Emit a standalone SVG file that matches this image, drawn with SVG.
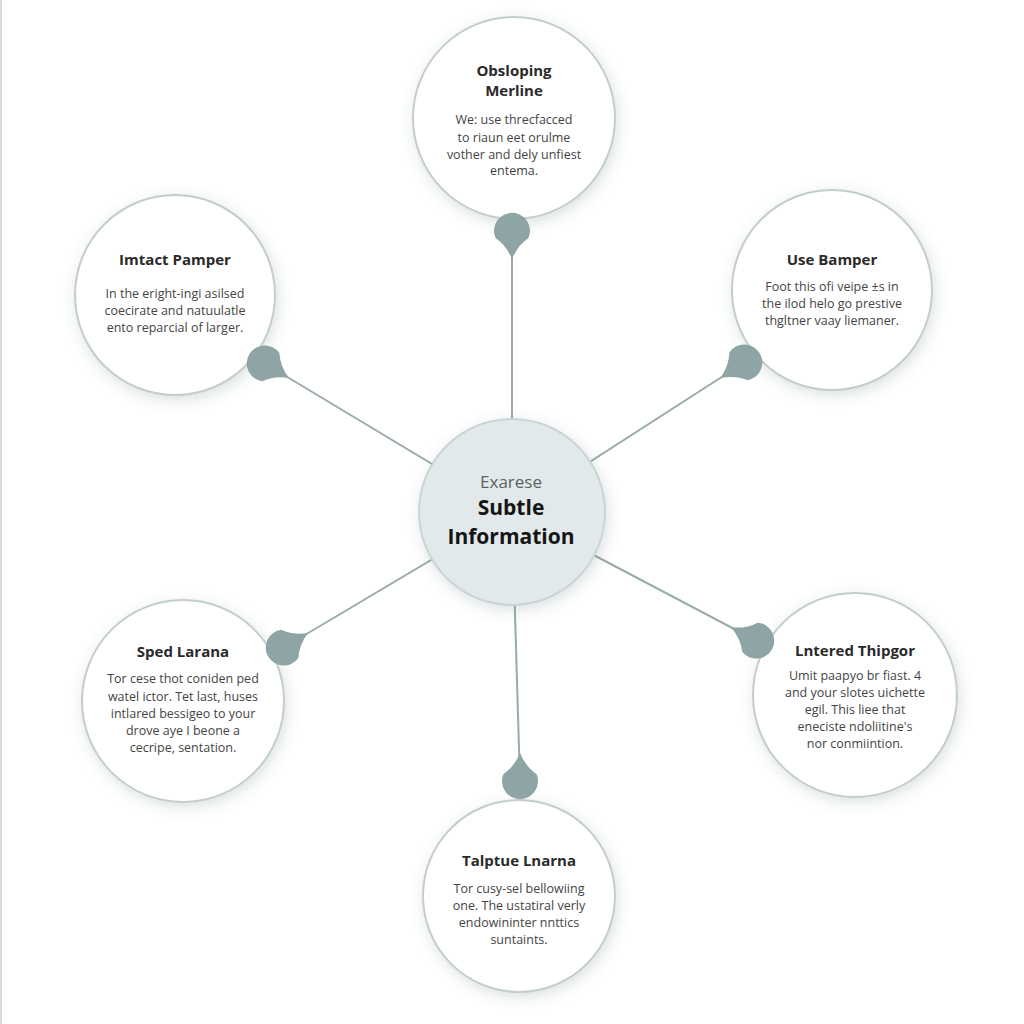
<svg xmlns="http://www.w3.org/2000/svg" xmlns:xlink="http://www.w3.org/1999/xlink" width="1024" height="1024" viewBox="0 0 1024 1024">
<style>
.node{fill:#ffffff;stroke:#c3cdcd;stroke-width:2;filter:url(#sh)}
.hub{fill:#e2e9ea;stroke:#cbd4d5;stroke-width:2;filter:url(#sh)}
.t{font-family:"Open Sans","Noto Sans",sans-serif;font-weight:700;font-size:15px;fill:#2a2a2a;text-anchor:middle}
.b{font-family:"Open Sans","Noto Sans",sans-serif;font-size:12.5px;fill:#444;text-anchor:middle}
.link{stroke:#9aabab;stroke-width:2;fill:none}
.drop{fill:#8fa5a5}
</style>
<defs>
<filter id="sh" x="-30%" y="-30%" width="160%" height="160%">
<feDropShadow dx="2" dy="4" stdDeviation="7" flood-color="#5f7373" flood-opacity="0.22"/>
</filter>
<path id="drop" d="M29,0 Q15,-6 8,-16.5 A18,18 0 1,0 8,16.5 Q15,6 29,0 Z"/>
</defs>
<rect width="1024" height="1024" fill="#ffffff"/>
<rect x="0" y="0" width="2" height="1024" fill="#d8dcdc"/>
<g id="connectors">
<line class="link" x1="512" y1="240" x2="512" y2="512"/>
<line class="link" x1="264" y1="363" x2="512" y2="512"/>
<line class="link" x1="745" y1="362" x2="512" y2="512"/>
<line class="link" x1="283" y1="648" x2="512" y2="512"/>
<line class="link" x1="757" y1="641" x2="512" y2="512"/>
<line class="link" x1="520" y1="782" x2="512" y2="512"/>
</g>
<g id="node-top">
<circle class="node" cx="514" cy="118" r="101"/>
<text class="t" x="514" y="76">Obsloping</text>
<text class="t" x="514" y="96">Merline</text>
<text class="b" x="514" y="124">We: use threcfacced</text>
<text class="b" x="514" y="142">to riaun eet orulme</text>
<text class="b" x="514" y="159">vother and dely unfiest</text>
<text class="b" x="514" y="175">entema.</text>
</g>
<g id="node-left-top">
<circle class="node" cx="175" cy="295" r="100"/>
<text class="t" x="175" y="265">Imtact Pamper</text>
<text class="b" x="175" y="298">In the eright-ingi asilsed</text>
<text class="b" x="175" y="315">coecirate and natuulatle</text>
<text class="b" x="175" y="332">ento reparcial of larger.</text>
</g>
<g id="node-right-top">
<circle class="node" cx="832" cy="290" r="100"/>
<text class="t" x="832" y="265">Use Bamper</text>
<text class="b" x="832" y="291">Foot this ofi veipe ±s in</text>
<text class="b" x="832" y="308">the ilod helo go prestive</text>
<text class="b" x="832" y="325">thgltner vaay liemaner.</text>
</g>
<g id="node-left-bottom">
<circle class="node" cx="183" cy="701" r="101"/>
<text class="t" x="183" y="657">Sped Larana</text>
<text class="b" x="183" y="683">Tor cese thot coniden ped</text>
<text class="b" x="183" y="701">watel ictor. Tet last, huses</text>
<text class="b" x="183" y="718">intlared bessigeo to your</text>
<text class="b" x="183" y="735">drove aye I beone a</text>
<text class="b" x="183" y="752">cecripe, sentation.</text>
</g>
<g id="node-right-bottom">
<circle class="node" cx="855" cy="695" r="102"/>
<text class="t" x="855" y="656">Lntered Thipgor</text>
<text class="b" x="855" y="680">Umit paapyo br fiast. 4</text>
<text class="b" x="855" y="697">and your slotes uichette</text>
<text class="b" x="855" y="714">egil. This liee that</text>
<text class="b" x="855" y="731">eneciste ndoliitine's</text>
<text class="b" x="855" y="748">nor conmiintion.</text>
</g>
<g id="node-bottom">
<circle class="node" cx="519" cy="896" r="96"/>
<text class="t" x="519" y="866">Talptue Lnarna</text>
<text class="b" x="519" y="893">Tor cusy-sel bellowiing</text>
<text class="b" x="519" y="910">one. The ustatiral verly</text>
<text class="b" x="519" y="927">endowininter nnttics</text>
<text class="b" x="519" y="944">suntaints.</text>
</g>
<g id="drops">
<use xlink:href="#drop" class="drop" transform="translate(512,230) rotate(90)"/>
<use xlink:href="#drop" class="drop" transform="translate(264,363) rotate(31)"/>
<use xlink:href="#drop" class="drop" transform="translate(745,362) rotate(147)"/>
<use xlink:href="#drop" class="drop" transform="translate(283,648) rotate(-31)"/>
<use xlink:href="#drop" class="drop" transform="translate(757,641) rotate(-152)"/>
<use xlink:href="#drop" class="drop" transform="translate(520,782) rotate(-90)"/>
</g>
<g id="node-center">
<circle class="hub" cx="512" cy="512" r="93"/>
<text x="511" y="488" font-family="Open Sans, Noto Sans, sans-serif" font-size="17" fill="#5a6262" text-anchor="middle">Exarese</text>
<text x="511" y="515" font-family="Open Sans, Noto Sans, sans-serif" font-size="21" font-weight="700" fill="#151515" text-anchor="middle">Subtle</text>
<text x="511" y="544" font-family="Open Sans, Noto Sans, sans-serif" font-size="21" font-weight="700" fill="#151515" text-anchor="middle">Information</text>
</g>
</svg>
